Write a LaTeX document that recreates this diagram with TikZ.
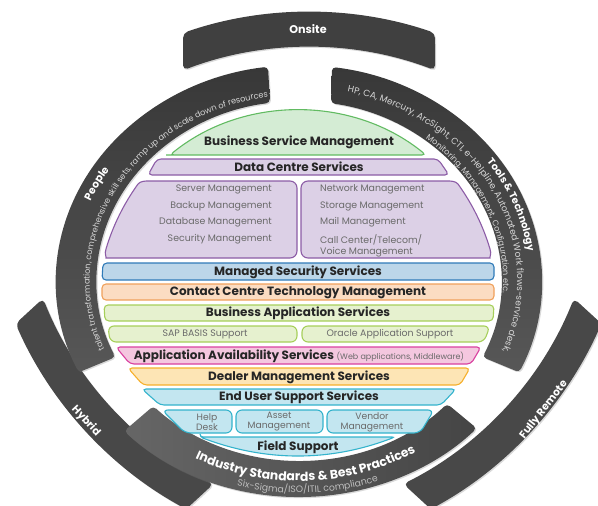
\documentclass[tikz,border=0pt]{standalone}
\usepackage{fontspec}
\setmainfont{Poppins}
\usetikzlibrary{calc,decorations.text,shadows}

\definecolor{ringtop}{HTML}{383838}
\definecolor{ringbot}{HTML}{575757}
\definecolor{onsitegray}{HTML}{404040}
\definecolor{armdark}{HTML}{484848}
\definecolor{armlight}{HTML}{686868}
\definecolor{stdleft}{HTML}{666666}
\definecolor{stdright}{HTML}{454545}
\definecolor{ringtext}{HTML}{D6D6D6}
\definecolor{subtext}{HTML}{BDBDBD}
\definecolor{headtext}{HTML}{262626}
\definecolor{itemtext}{HTML}{6A6A6A}
\definecolor{bsmfill}{HTML}{D4ECD4}\definecolor{bsmline}{HTML}{62BB62}
\definecolor{dcfill}{HTML}{DCD0E6}\definecolor{dcline}{HTML}{8C5CA6}
\definecolor{msfill}{HTML}{BCD6E9}\definecolor{msline}{HTML}{2F7AB8}
\definecolor{ccfill}{HTML}{FBDCC2}\definecolor{ccline}{HTML}{F0A05A}
\definecolor{bafill}{HTML}{E6F1CF}\definecolor{baline}{HTML}{A6CF5A}
\definecolor{aafill}{HTML}{F4C7DF}\definecolor{aaline}{HTML}{D9409F}
\definecolor{dmfill}{HTML}{FDE5B5}\definecolor{dmline}{HTML}{F6B02C}
\definecolor{eufill}{HTML}{C3E6F0}\definecolor{euline}{HTML}{34B3CC}

% curved arm (outer segment), drawn around its own centre of curvature
\newcommand\armpath{(-126,-367.0) arc[start angle=-108.95, end angle=-71.05, radius=388]
  -- (126,-329.7) arc[start angle=-69.09, end angle=-110.91, radius=353] -- cycle}

\tikzset{
  softshadow/.style={drop shadow={opacity=.3,shadow xshift=1.2pt,shadow yshift=-1.2pt}},
  armseg/.style={left color=armdark, middle color=armlight, right color=armdark, rounded corners=5pt, softshadow},
  ringseg/.style={top color=ringtop, bottom color=ringbot, rounded corners=4pt, softshadow},
  band/.style={rounded corners=4pt, line width=1.1pt},
  head/.style={font=\bfseries\fontsize{12}{13}\selectfont, text=headtext, inner sep=0pt},
  item/.style={font=\fontsize{9.4}{11}\selectfont, text=itemtext, inner sep=0pt},
  boxitem/.style={item, align=center, font=\fontsize{9.2}{10}\selectfont},
  armlabel/.style={font=\bfseries\fontsize{10.6}{11}\selectfont, text=white, inner sep=0pt},
}

\begin{document}
\begin{tikzpicture}[x=1pt,y=-1pt]
\useasboundingbox (0,0) rectangle (598,506);
\clip (0,0) rectangle (598,506);
\coordinate (C) at (299,281);

% ---------- outer arms ----------
\begin{scope}[shift={(371,168)},rotate=132.6]
  \path[armseg] \armpath;
\end{scope}
\begin{scope}[shift={(246,168)},rotate=-132.6]
  \path[armseg] \armpath;
\end{scope}
\begin{scope}[shift={(309,400)}]
  \fill[onsitegray, rounded corners=5pt, softshadow] \armpath;
\end{scope}

% ---------- inner ring ----------
\path[ringseg, top color=stdleft, bottom color=stdleft, left color=stdleft, right color=stdright]
  ($(C)+(136:243 and 216)$)
  arc[start angle=136, end angle=43, x radius=243, y radius=216]
  -- ($(C)+(43:202.5 and 180)$)
  arc[start angle=43, end angle=136, x radius=202.5, y radius=180] -- cycle;
\path[ringseg] ($(C)+(155:243 and 216)$)
  arc[start angle=155, end angle=262.67, x radius=243, y radius=216]
  -- ($(C)+(261.77:202.5 and 180)$)
  arc[start angle=261.77, end angle=155, x radius=202.5, y radius=180] -- cycle;
\path[ringseg] ($(C)+(-82.2:243 and 216)$)
  arc[start angle=-82.2, end angle=25, x radius=243, y radius=216]
  -- ($(C)+(25:202.5 and 180)$)
  arc[start angle=25, end angle=-80.9, x radius=202.5, y radius=180] -- cycle;

% ---------- arm labels ----------
\node[armlabel, font=\bfseries\fontsize{11.2}{12}\selectfont] (onsite) at (308,29) {Onsite};
\node[armlabel, rotate=-47] (hybrid) at (86,421) {Hybrid};
\node[armlabel, rotate=52] (remote) at (544,410) {Fully Remote};

% ---------- ring texts ----------
\path[decorate, decoration={text along path, text align=center, text color=ringtext,
  text={|\fontsize{8.2}{9}\selectfont|talent transformation, comprehensive skill sets, ramp up and scale down of resources}}]
  ($(C)+(148:209.3 and 186)$) arc[start angle=148, end angle=271, x radius=209.3, y radius=186];
\path[decorate, decoration={text along path, text align=center, text color=white,
  text={|\bfseries\fontsize{10.5}{11}\selectfont|People}}]
  ($(C)+(188:227 and 202)$) arc[start angle=188, end angle=228, x radius=227, y radius=202];

\path[decorate, decoration={text along path, text align=center, text color=white,
  text={|\bfseries\fontsize{10}{11}\selectfont|Tools {\&} Technology}}]
  ($(C)+(-50:231 and 205.5)$) arc[start angle=-50, end angle=7, x radius=231, y radius=205.5];
\path[decorate, decoration={text along path, text align=center, text color=ringtext,
  text={|\fontsize{9}{10}\selectfont|HP, CA, Mercury, ArcSight, CTI, e-Helpline, Automated Work flows-service desk,}}]
  ($(C)+(-88:218.2 and 194)$) arc[start angle=-88, end angle=33, x radius=218.2, y radius=194];
\path[decorate, decoration={text along path, text align=center, text color=ringtext,
  text={|\fontsize{8.2}{9}\selectfont|Monitoring, Management, Configuration etc.}}]
  ($(C)+(-62:204.2 and 181.5)$) arc[start angle=-62, end angle=15, x radius=204.2, y radius=181.5];

\path[decorate, decoration={text along path, text align=center, text color=white,
  text={|\bfseries\fontsize{12.4}{13}\selectfont|Industry Standards {\&} Best Practices}}]
  ($(C)+(140:225 and 200)$) arc[start angle=140, end angle=36, x radius=225, y radius=200];
\path[decorate, decoration={text along path, text align=center, text color=subtext,
  text={|\fontsize{9.3}{10}\selectfont|Six-Sigma/ISO/ITIL compliance}}]
  ($(C)+(132:238.5 and 212)$) arc[start angle=132, end angle=43.5, x radius=238.5, y radius=212];

% ---------- service layers ----------
\path[band, fill=bsmfill, draw=bsmline] (170,155) -- (426,155)
  arc[start angle=-48.7, end angle=-131.3, x radius=194, y radius=180] -- cycle;
\node[head] (bsm) at (299,142) {Business Service Management};

\path[band, fill=dcfill, draw=dcline] (157,159) -- (438,159) -- (449,175) -- (148,175) -- cycle;
\node[head] (dcs) at (299,167) {Data Centre Services};

% the two data-centre panels, curved along the outer edge
\path[band, fill=dcfill, draw=dcline] [rounded corners=7pt] (150,181) -- (297,181) -- (297,258) -- (113,258)
  [sharp corners] .. controls (107,258) and (104,254) .. (106,249)
  .. controls (113,225.5) and (123.7,204) .. (138,184)
  .. controls (141,181) and (144,181) .. (150,181) -- cycle;
\path[band, fill=dcfill, draw=dcline] [rounded corners=7pt] (446,181) -- (301,181) -- (301,258) -- (483,258)
  [sharp corners] .. controls (489,258) and (492,254) .. (490,249)
  .. controls (483,225.5) and (472.3,204) .. (458,184)
  .. controls (455,181) and (452,181) .. (446,181) -- cycle;
\node[item, anchor=east] (srv) at (272,189) {Server Management};
\node[item, anchor=east] (bkp) at (272,206) {Backup Management};
\node[item, anchor=east] (dbm) at (272,222.5) {Database Management};
\node[item, anchor=east] (sec) at (272,239) {Security Management};
\node[item, anchor=west] (net) at (320,189) {Network Management};
\node[item, anchor=west] (sto) at (320,206) {Storage Management};
\node[item, anchor=west] (mail) at (320,222.5) {Mail Management};
\node[item, anchor=west, align=left] (call) at (320,245.5) {Call Center/Telecom/\\Voice Management};

\path[band, fill=msfill, draw=msline] (103,263) -- (494,263) -- (494,280) -- (102,280) -- cycle;
\node[head] (mss) at (298,272) {Managed Security Services};

\path[band, fill=ccfill, draw=ccline] (102,284) -- (494,284) -- (494,300) -- (102,300) -- cycle;
\node[head] (cct) at (298,292.5) {Contact Centre Technology Management};

\path[band, fill=bafill, draw=baline] (104,305) -- (494,305) -- (493,321) -- (105,321) -- cycle;
\node[head] (bas) at (298,313.5) {Business Application Services};

\path[band, rounded corners=6pt, fill=bafill, draw=baline] (108,326) -- (297,326) -- (297,342) -- (110,342) -- cycle;
\node[item] (sap) at (205,334.5) {SAP BASIS Support};
\path[band, rounded corners=6pt, fill=bafill, draw=baline] (302,326) -- (490,326) -- (484,342) -- (302,342) -- cycle;
\node[item] (ora) at (390,334.5) {Oracle Application Support};

\path[band, fill=aafill, draw=aaline] (116,347) -- (481,347) -- (471,364) -- (130,364) -- cycle;
\node[head] (aas) at (299,356) {Application Availability Services {\fontseries{m}\fontsize{8}{9}\selectfont\color{itemtext}(Web applications, Middleware)}};

\path[band, fill=dmfill, draw=dmline] (128,368) -- (470,368) -- (460,385) -- (143,385) -- cycle;
\node[head] (dms) at (299,377) {Dealer Management Services};

\path[band, fill=eufill, draw=euline] (142,389) -- (456,389) -- (441,405) -- (160,405) -- cycle;
\node[head] (eus) at (299,397.5) {End User Support Services};

\path[band, rounded corners=6pt, fill=eufill, draw=euline] (162,410) -- (232,410) -- (232,433) -- (185,433) -- cycle;
\node[boxitem] (help) at (207,422) {Help\\Desk};
\path[band, rounded corners=6pt, fill=eufill, draw=euline] (236,410) -- (323,410) -- (323,433) -- (236,433) -- cycle;
\node[boxitem] (asset) at (279,422) {Asset\\Management};
\path[band, rounded corners=6pt, fill=eufill, draw=euline] (327,410) -- (434,410) -- (420,433) -- (327,433) -- cycle;
\node[boxitem] (vendor) at (372,422) {Vendor\\Management};

\path[band, rounded corners=3pt, fill=eufill, draw=euline] (200,437) -- (395,437)
  .. controls (330,462) and (266,462) .. (200,437) -- cycle;
\node[head] (fs) at (298,447) {Field Support};
\end{tikzpicture}
\end{document}
